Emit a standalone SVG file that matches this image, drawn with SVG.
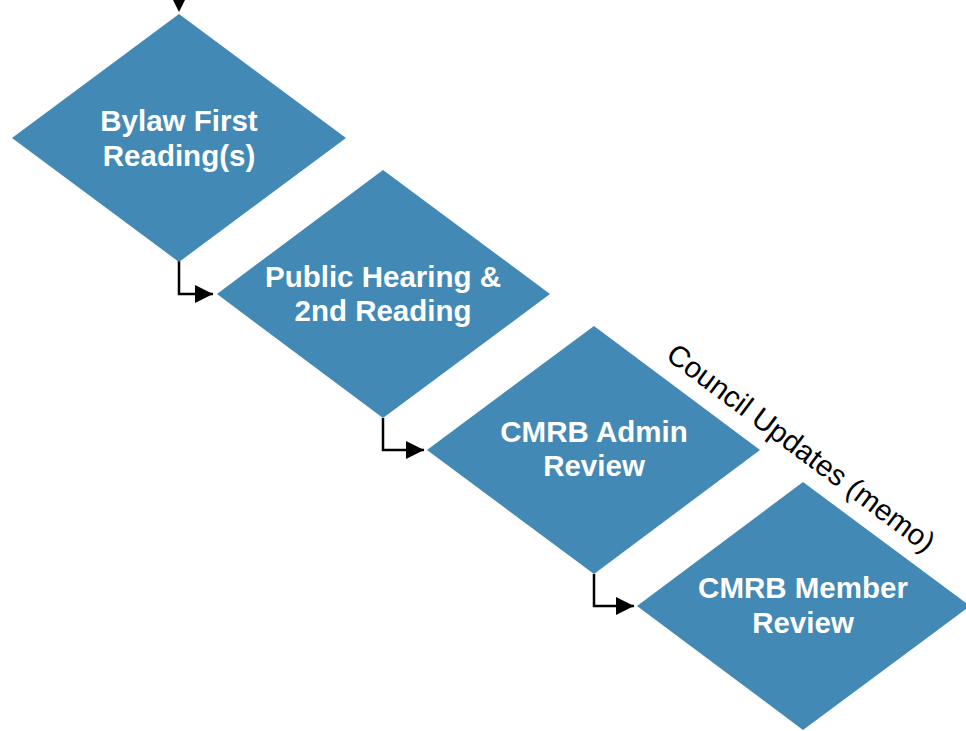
<svg xmlns="http://www.w3.org/2000/svg" width="966" height="731" viewBox="0 0 966 731">
  <style>
    .d { fill: #4389b5; }
    .t { font-family: "Liberation Sans", Arial, sans-serif; font-weight: bold; font-size: 29.5px; fill: #ffffff; text-anchor: middle; }
    .c { fill: none; stroke: #000000; stroke-width: 2.5; }
    .lbl { font-family: "Liberation Sans", Arial, sans-serif; font-size: 29.5px; fill: #000000; text-anchor: middle; }
  </style>
  <defs>
    <marker id="arr" markerUnits="userSpaceOnUse" markerWidth="20" markerHeight="20" viewBox="0 0 20 20" refX="18" refY="9" orient="auto">
      <path d="M0,0 L18,9 L0,18 Z" fill="#000000"/>
    </marker>
  </defs>
  <rect width="966" height="731" fill="#ffffff"/>
  <g id="connectors">
    <path d="M170,-6 L188,-6 L179,12 Z" fill="#000000"/>
    <path class="c" d="M179,261 V294 H213" marker-end="url(#arr)"/>
    <path class="c" d="M383,418 V450 H424" marker-end="url(#arr)"/>
    <path class="c" d="M594,574 V606 H634" marker-end="url(#arr)"/>
  </g>
  <g id="node-bylaw">
    <polygon class="d" points="179,14 346,138 179,262 12,138"/>
    <text class="t" x="179" y="131">Bylaw First</text>
    <text class="t" x="179" y="166">Reading(s)</text>
  </g>
  <g id="node-public-hearing">
    <polygon class="d" points="383,170 550,294 383,418 217,294"/>
    <text class="t" x="383" y="287">Public Hearing &amp;</text>
    <text class="t" x="383" y="321">2nd Reading</text>
  </g>
  <g id="node-cmrb-admin">
    <polygon class="d" points="594,326 760,450 594,574 427,450"/>
    <text class="t" x="594" y="442">CMRB Admin</text>
    <text class="t" x="594" y="476">Review</text>
  </g>
  <g id="node-cmrb-member">
    <polygon class="d" points="803,482 970,606 803,730 637,606"/>
    <text class="t" x="803" y="598">CMRB Member</text>
    <text class="t" x="803" y="633">Review</text>
  </g>
  <g id="label-council">
    <text class="lbl" transform="translate(795,456) rotate(36.8)">Council Updates (memo)</text>
  </g>
</svg>
